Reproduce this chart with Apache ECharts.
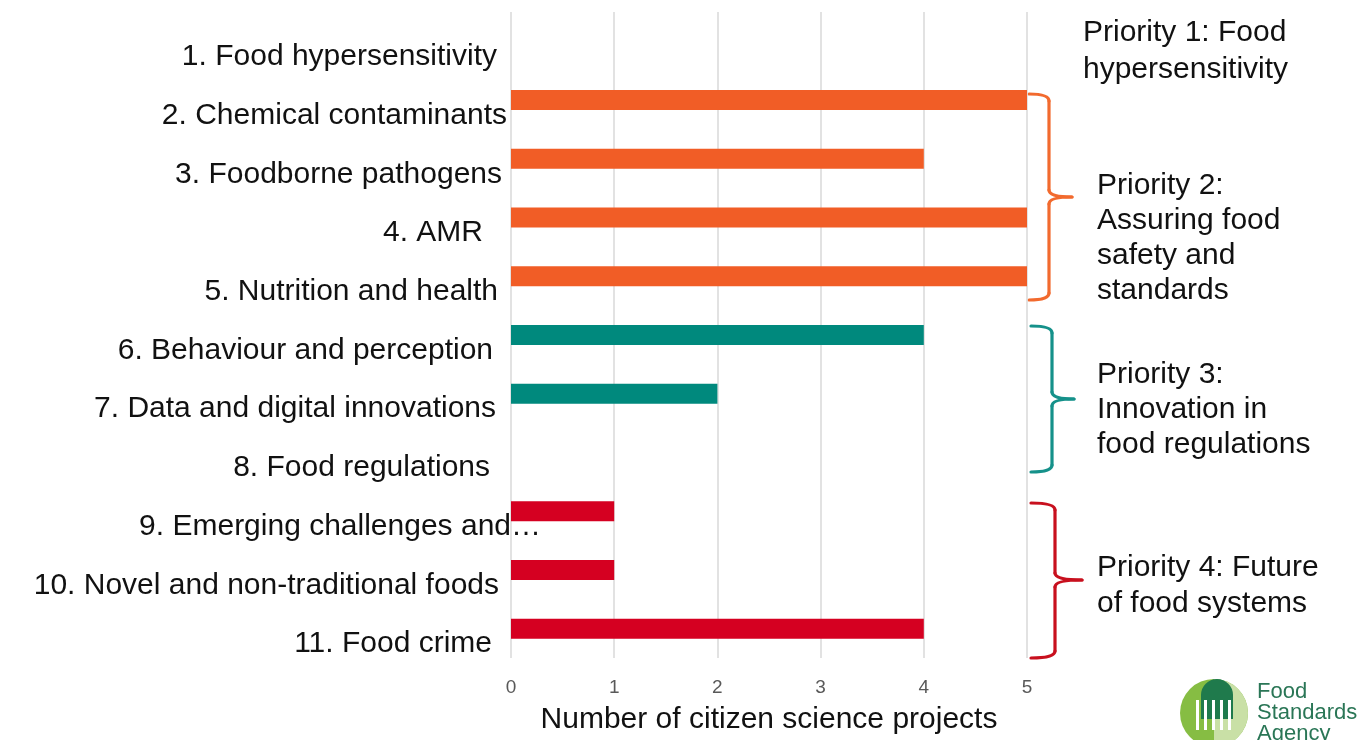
<!DOCTYPE html>
<html>
<head>
<meta charset="utf-8">
<script src="https://cdn.jsdelivr.net/npm/echarts@6/dist/echarts.min.js"></script>
<style>
html,body{margin:0;padding:0;background:#fff;}
#c{width:1371px;height:740px;}
</style>
</head>
<body>
<div id="c"></div>
<script>
// ---- data ----
var categories = [
  '1. Food hypersensitivity',
  '2. Chemical contaminants',
  '3. Foodborne pathogens',
  '4. AMR',
  '5. Nutrition and health',
  '6. Behaviour and perception',
  '7. Data and digital innovations',
  '8. Food regulations',
  '9. Emerging challenges and…',
  '10. Novel and non-traditional foods',
  '11. Food crime'
];
var projectCounts = [0, 5, 4, 5, 5, 4, 2, 0, 1, 1, 4];
var priorityGroup = [1, 2, 2, 2, 2, 3, 3, 3, 4, 4, 4];
var xTicks = [0, 1, 2, 3, 4, 5];
var xAxisTitle = 'Number of citizen science projects';
var priorityNotes = [
  'Priority 1: Food\nhypersensitivity',
  'Priority 2:\nAssuring food\nsafety and\nstandards',
  'Priority 3:\nInnovation in\nfood regulations',
  'Priority 4: Future\nof food systems'
];
var logoText = 'Food\nStandards\nAgency';

// ---- styles ----
var groupColors = {1: '#F15D26', 2: '#F15D26', 3: '#00897D', 4: '#D50021'};
var braceColors = ['#F26A2E', '#15918A', '#C8101E'];
// right padding per label (layout offsets only)
var labelRightPad = [44, 34, 39, 58, 43, 48, 45, 51, 0, 42, 49];
var FONT = 'Arial, "Liberation Sans", sans-serif';

var chart = echarts.init(document.getElementById('c'));

var catData = categories.map(function (c, i) {
  return {
    value: c,
    textStyle: {
      padding: [0, labelRightPad[i], 0, 0],
      verticalAlign: 'top',
      align: 'right',
      lineHeight: 31
    }
  };
});
var barData = projectCounts.map(function (v, i) {
  return { value: v, itemStyle: { color: groupColors[priorityGroup[i]] } };
});

function brace(x0, xv, xt, top, mid, bottom, color) {
  var r = 7;
  var st = { stroke: color, lineWidth: 3.2, fill: null, lineCap: 'round' };
  function q(x1, y1, cx, cy, x2, y2) {
    return { type: 'bezierCurve', shape: { x1: x1, y1: y1, cpx1: cx, cpy1: cy, x2: x2, y2: y2 }, style: st };
  }
  function l(x1, y1, x2, y2) {
    return { type: 'line', shape: { x1: x1, y1: y1, x2: x2, y2: y2 }, style: st };
  }
  return {
    type: 'group', z: 10,
    children: [
      q(x0, top, xv, top, xv, top + r),
      l(xv, top + r, xv, mid - r),
      q(xv, mid - r, xv, mid, xt, mid),
      q(xt, mid, xv, mid, xv, mid + r),
      l(xv, mid + r, xv, bottom - r),
      q(xv, bottom - r, xv, bottom, x0, bottom)
    ]
  };
}

function note(x, y, text, lh) {
  return {
    type: 'text', left: x, top: y, z: 10,
    style: { text: text, font: '30px ' + FONT, fill: '#111', lineHeight: lh }
  };
}

var option = {
  backgroundColor: '#ffffff',
  animation: false,
  grid: { left: 511, right: 344, top: 12, bottom: 81, containLabel: false },
  xAxis: {
    type: 'value',
    min: 0, max: 5, interval: 1,
    axisLine: { show: false },
    axisTick: { show: false },
    splitLine: { show: true, lineStyle: { color: '#D9D9D9', width: 1.5 } },
    axisLabel: {
      margin: 20, color: '#595959', fontSize: 19, fontFamily: FONT,
      formatter: function (v) { return xTicks.indexOf(v) >= 0 ? String(v) : ''; }
    },
    name: xAxisTitle,
    nameLocation: 'middle',
    nameGap: 47,
    nameTextStyle: { color: '#111', fontSize: 30, fontFamily: FONT }
  },
  yAxis: {
    type: 'category',
    inverse: true,
    z: 5,
    data: catData,
    axisLine: { show: false },
    axisTick: { show: false },
    splitLine: { show: false },
    axisLabel: {
      margin: -30, color: '#111', fontSize: 30, fontFamily: FONT,
      verticalAlign: 'top', lineHeight: 31,
      interval: 0
    }
  },
  series: [{
    type: 'bar',
    data: barData,
    barWidth: 20
  }],
  graphic: [
    brace(1029, 1049, 1072, 94, 197, 300, braceColors[0]),
    brace(1031, 1052, 1074, 326, 399, 472, braceColors[1]),
    brace(1031, 1055, 1082, 503, 580, 658, braceColors[2]),
    note(1083, 14, priorityNotes[0], 37),
    note(1097, 168, priorityNotes[1], 35),
    note(1097, 357, priorityNotes[2], 35),
    note(1097, 550, priorityNotes[3], 36),
    // FSA logo (approximation)
    { type: 'circle', z: 10, shape: { cx: 1214, cy: 713, r: 34 }, style: { fill: '#86BD43' } },
    { type: 'sector', z: 11, shape: { cx: 1214, cy: 713, r: 34, r0: 0, startAngle: -Math.PI / 2, endAngle: Math.PI / 2, clockwise: true }, style: { fill: '#C9E0A6' } },
    { type: 'rect', z: 12, shape: { x: 1201, y: 679, width: 32, height: 40, r: [16, 16, 0, 0] }, style: { fill: '#1F7A4C' } },
    { type: 'rect', z: 13, shape: { x: 1196, y: 700, width: 3, height: 30 }, style: { fill: '#ffffff' } },
    { type: 'rect', z: 13, shape: { x: 1204, y: 700, width: 3, height: 30 }, style: { fill: '#ffffff' } },
    { type: 'rect', z: 13, shape: { x: 1212, y: 700, width: 3, height: 30 }, style: { fill: '#ffffff' } },
    { type: 'rect', z: 13, shape: { x: 1220, y: 700, width: 3, height: 30 }, style: { fill: '#ffffff' } },
    { type: 'rect', z: 13, shape: { x: 1228, y: 700, width: 3, height: 30 }, style: { fill: '#ffffff' } },
    {
      type: 'text', left: 1257, top: 681, z: 12,
      style: { text: logoText, font: '22px ' + FONT, fill: '#2A7656', lineHeight: 21 }
    }
  ]
};
chart.setOption(option);
</script>
</body>
</html>
